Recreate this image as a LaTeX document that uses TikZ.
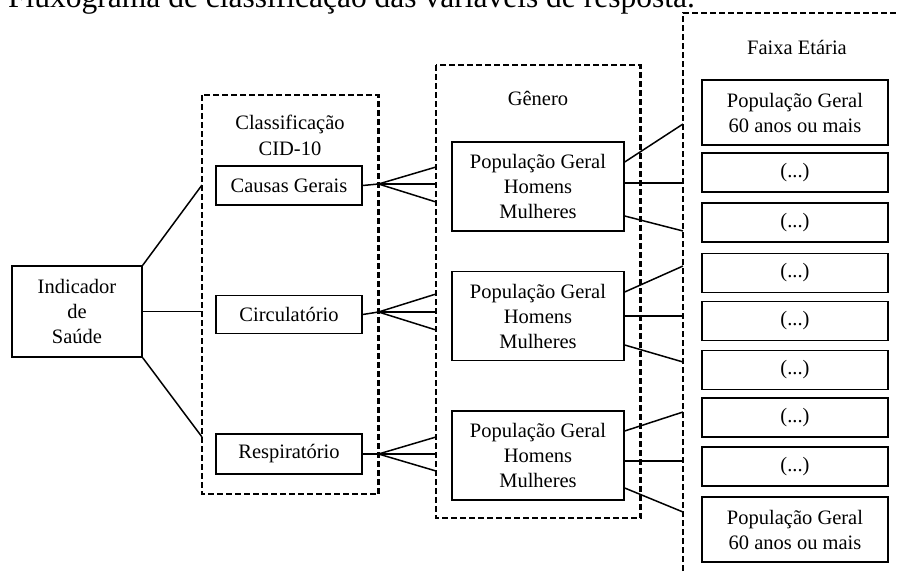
\documentclass[tikz,border=0pt]{standalone}
\usepackage{fontspec}
\setmainfont{Liberation Serif}
\begin{document}
\begin{tikzpicture}[x=1pt,y=-1pt,
  box/.style={draw, line width=1.4pt, inner sep=0pt, align=center, font=\fontsize{20.5}{25}\selectfont},
  grp/.style={draw, line width=2.1pt, dash pattern=on 6pt off 3pt},
  link/.style={line width=1.5pt},
  lbl/.style={inner sep=0pt, align=center, font=\fontsize{20.5}{26}\selectfont}]
\useasboundingbox (0,0) rectangle (899,573);
\node[anchor=base west, inner sep=0pt, font=\fontsize{31.5}{36}\selectfont] (title) at (8,7.5) {Fluxograma de classificação das variáveis de resposta.};

% dashed groups
\draw[grp] (202,95) rectangle (378.5,494);
\draw[grp] (436,65) rectangle (640.5,518);
\draw[grp] (683,580) -- (683,13) -- (910,13);

\node[lbl] (lcid) at (290,135) {Classificação\\CID-10};
\node[lbl] (lgen) at (538,98) {Gênero};
\node[lbl] (lfx) at (797,47) {Faixa Etária};

% left
\node[box, minimum width=130, minimum height=91] (ind) at (77,311.5) {Indicador\\de\\Saúde};
\node[box, minimum width=146, minimum height=39] (cg) at (289,185.5) {Causas Gerais};
\node[box, minimum width=146, minimum height=38] (ci) at (289,314.5) {Circulatório};
\node[box, minimum width=146, minimum height=40] (re) at (289,454) {Respiratório};

% genero boxes
\node[box, minimum width=172, minimum height=89] (ga) at (538,186.5) {População Geral\\Homens\\Mulheres};
\node[box, minimum width=172, minimum height=89] (gb) at (538,316) {População Geral\\Homens\\Mulheres};
\node[box, minimum width=172, minimum height=89] (gc) at (538,455.5) {População Geral\\Homens\\Mulheres};

% faixa etaria boxes
\node[box, minimum width=186, minimum height=65] (r1) at (795,112.5) {População Geral\\60 anos ou mais};
\node[box, minimum width=186, minimum height=39] (r2) at (795,172.5) {(...)};
\node[box, minimum width=186, minimum height=39] (r3) at (795,222.5) {(...)};
\node[box, minimum width=186, minimum height=39] (r4) at (795,273) {(...)};
\node[box, minimum width=186, minimum height=39] (r5) at (795,321) {(...)};
\node[box, minimum width=186, minimum height=39] (r6) at (795,370) {(...)};
\node[box, minimum width=186, minimum height=39] (r7) at (795,417.5) {(...)};
\node[box, minimum width=186, minimum height=39] (r8) at (795,466.5) {(...)};
\node[box, minimum width=186, minimum height=65] (r9) at (795,529.5) {População Geral\\60 anos ou mais};

% coordinates on dashed edges
\coordinate (i1) at (202,185);
\coordinate (i2) at (202,311.5);
\coordinate (i3) at (202,437);
\coordinate (pa) at (378.5,184);
\coordinate (pb) at (378.5,312);
\coordinate (pc) at (378.5,454);
\coordinate (fa1) at (436,167);
\coordinate (fa2) at (436,184);
\coordinate (fa3) at (436,202);
\coordinate (fb1) at (436,294);
\coordinate (fb2) at (436,312);
\coordinate (fb3) at (436,330);
\coordinate (fc1) at (436,437);
\coordinate (fc2) at (436,454);
\coordinate (fc3) at (436,471);
\coordinate (ea1) at (683,124);
\coordinate (ea2) at (683,183);
\coordinate (ea3) at (683,231);
\coordinate (eb1) at (683,266);
\coordinate (eb2) at (683,316);
\coordinate (eb3) at (683,362);
\coordinate (ec1) at (683,412);
\coordinate (ec2) at (683,461);
\coordinate (ec3) at (683,512);

\draw[link] (ind.north east) -- (i1);
\draw[link] (ind.east) -- (i2);
\draw[link] (ind.south east) -- (i3);

\draw[link] (cg.east) -- (pa);
\draw[link] (fa1) -- (pa) -- (fa3);
\draw[link] (pa) -- (fa2);
\draw[link] (ci.east) -- (pb);
\draw[link] (fb1) -- (pb) -- (fb3);
\draw[link] (pb) -- (fb2);
\draw[link] (re.east) -- (pc);
\draw[link] (fc1) -- (pc) -- (fc3);
\draw[link] (pc) -- (fc2);

\draw[link] ([yshift=24.5]ga.east) -- (ea1);
\draw[link] ([yshift=3.5]ga.east) -- (ea2);
\draw[link] ([yshift=-29.5]ga.east) -- (ea3);
\draw[link] ([yshift=24]gb.east) -- (eb1);
\draw[link] (gb.east) -- (eb2);
\draw[link] ([yshift=-29]gb.east) -- (eb3);
\draw[link] ([yshift=24.5]gc.east) -- (ec1);
\draw[link] ([yshift=-5.5]gc.east) -- (ec2);
\draw[link] ([yshift=-32.5]gc.east) -- (ec3);
\end{tikzpicture}
\end{document}
